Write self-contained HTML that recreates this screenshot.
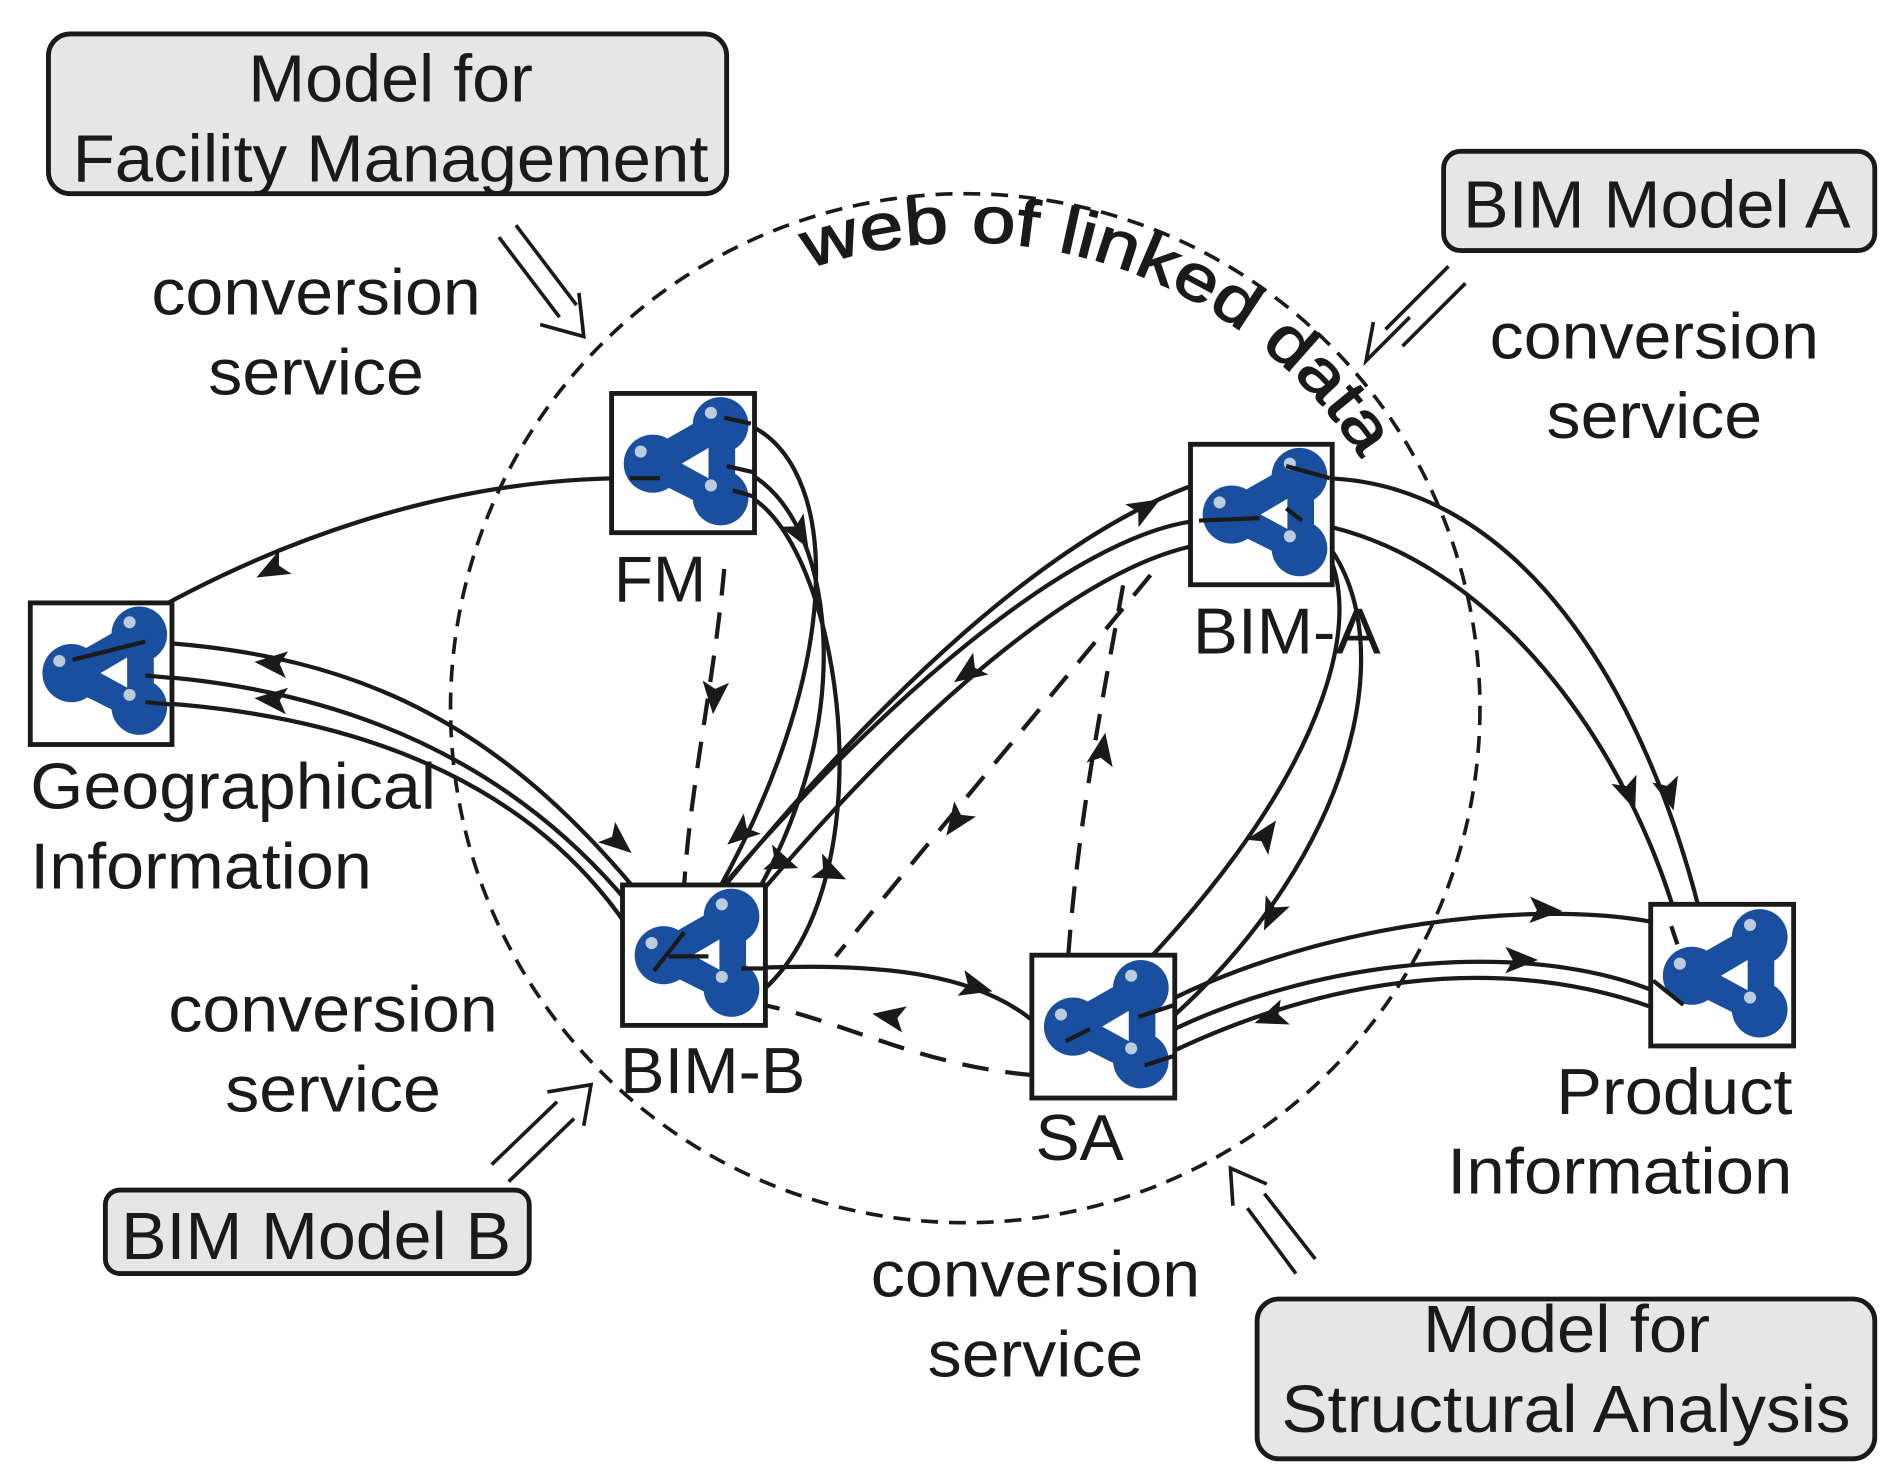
<!DOCTYPE html>
<html><head><meta charset="utf-8"><style>html,body{margin:0;padding:0;background:#fff}svg{display:block}</style></head>
<body>
<svg width="1899" height="1483" viewBox="0 0 1568 1225" preserveAspectRatio="none" xmlns="http://www.w3.org/2000/svg" font-family="Liberation Sans, sans-serif">
<defs>
<path id="ah" d="M15,0 L-12,-11 L-6,0 L-12,11 Z" fill="#1a1a1a"/>
<g id="ic">
<polygon points="32,56 88,24 88,84" fill="none" stroke="#1a4fa0" stroke-width="24" stroke-linejoin="round"/>
<circle cx="32" cy="56" r="24" fill="#1a4fa0"/>
<circle cx="88" cy="24" r="23" fill="#1a4fa0"/>
<circle cx="88" cy="84" r="23" fill="#1a4fa0"/>
<polygon points="56,56 78,43 78,68" fill="#fff"/>
<circle cx="22" cy="46" r="5" fill="#bcd"/>
<circle cx="80" cy="14" r="5" fill="#bcd"/>
<circle cx="80" cy="74" r="5" fill="#bcd"/>
</g>
</defs>
<rect width="1568" height="1225" fill="#fff"/>

<circle cx="797" cy="585" r="425" fill="none" stroke="#1a1a1a" stroke-width="3" stroke-dasharray="14,9"/>
<path id="arc" d="M668,222 A388 388 0 0 1 1185,585" fill="none"/>
<text font-size="54" fill="#1a1a1a" stroke="#1a1a1a" stroke-width="1.2"><textPath href="#arc" textLength="520" lengthAdjust="spacingAndGlyphs">web of linked data</textPath></text>

<g fill="#e6e6e6" stroke="#1a1a1a" stroke-width="4">
<rect x="40" y="28" width="560" height="132" rx="18"/>
<rect x="1192" y="125" width="356" height="82" rx="14"/>
<rect x="87" y="983" width="350" height="69" rx="12"/>
<rect x="1038" y="1073" width="510" height="132" rx="18"/>
</g>
<g font-size="55" fill="#1a1a1a" lengthAdjust="spacingAndGlyphs">
<text x="205" y="84" textLength="235" lengthAdjust="spacingAndGlyphs">Model for</text>
<text x="60" y="150" textLength="525" lengthAdjust="spacingAndGlyphs">Facility Management</text>
<text x="1208" y="188" textLength="320" lengthAdjust="spacingAndGlyphs">BIM Model A</text>
<text x="100" y="1040" textLength="322" lengthAdjust="spacingAndGlyphs">BIM Model B</text>
<text x="1175" y="1117" textLength="237" lengthAdjust="spacingAndGlyphs">Model for</text>
<text x="1058" y="1183" textLength="470" lengthAdjust="spacingAndGlyphs">Structural Analysis</text>
</g>
<g font-size="54" fill="#1a1a1a">
<text x="125" y="260" textLength="272" lengthAdjust="spacingAndGlyphs">conversion</text><text x="172" y="326" textLength="178" lengthAdjust="spacingAndGlyphs">service</text>
<text x="1230" y="296" textLength="272" lengthAdjust="spacingAndGlyphs">conversion</text><text x="1277" y="362" textLength="178" lengthAdjust="spacingAndGlyphs">service</text>
<text x="139" y="852" textLength="272" lengthAdjust="spacingAndGlyphs">conversion</text><text x="186" y="918" textLength="178" lengthAdjust="spacingAndGlyphs">service</text>
<text x="719" y="1071" textLength="272" lengthAdjust="spacingAndGlyphs">conversion</text><text x="766" y="1137" textLength="178" lengthAdjust="spacingAndGlyphs">service</text>
</g>

<g fill="none" stroke="#1a1a1a" stroke-width="3">
<path d="M412,196 L462,262 M426,186 L476,252"/><path d="M446,268 L482,278 L478,242"/>
<path d="M1196,220 L1144,272 M1210,234 L1158,286"/><path d="M1164,262 L1128,298 L1134,266"/>
<path d="M406,962 L460,910 M420,976 L474,924"/><path d="M452,902 L488,896 L482,930"/>
<path d="M1070,1052 L1030,998 M1086,1040 L1044,986"/><path d="M1018,996 L1016,965 L1046,978"/>
</g>

<g fill="none" stroke="#1a1a1a" stroke-width="3.5">
<path d="M520,395 C380,395 220,440 60,545"/>
<path d="M120,530 C300,540 420,600 545,760"/>
<path d="M120,558 C300,570 450,640 552,790"/>
<path d="M120,580 C300,590 460,650 540,802"/>
<path d="M598,345 C700,360 710,560 560,790"/>
<path d="M600,385 C690,400 730,620 580,802"/>
<path d="M605,405 C690,420 740,720 630,818"/>
<path d="M560,780 C700,600 900,390 1062,385"/>
<path d="M565,770 C720,580 890,440 990,430"/>
<path d="M585,790 C720,620 880,470 990,450"/>
<path d="M1072,430 C1140,470 1120,640 880,860"/>
<path d="M1062,420 C1170,480 1140,700 945,860"/>
<path d="M1095,395 C1250,400 1360,560 1410,780"/>
<path d="M1070,430 C1230,450 1350,620 1390,780"/>
<path d="M940,840 C1080,760 1280,740 1380,765"/>
<path d="M950,860 C1080,790 1280,770 1390,830"/>
<path d="M945,880 C1080,810 1240,780 1385,840"/>
<path d="M612,800 C720,795 820,800 870,860"/>
</g>
<g fill="none" stroke="#1a1a1a" stroke-width="3.5" stroke-dasharray="22,14">
<path d="M598,470 C590,560 570,650 565,730"/>
<path d="M950,475 C880,560 780,680 690,790"/>
<path d="M882,790 C890,680 910,580 928,480"/>
<path d="M852,888 C760,880 700,845 630,830"/>
</g>
<g>
<use href="#ah" transform="translate(225,470) rotate(152)"/>
<use href="#ah" transform="translate(225,548) rotate(185)"/>
<use href="#ah" transform="translate(225,578) rotate(185)"/>
<use href="#ah" transform="translate(510,695) rotate(40)"/>
<use href="#ah" transform="translate(660,440) rotate(60)"/>
<use href="#ah" transform="translate(645,712) rotate(20)"/>
<use href="#ah" transform="translate(685,720) rotate(25)"/>
<use href="#ah" transform="translate(590,575) rotate(95)"/>
<use href="#ah" transform="translate(945,420) rotate(-30)"/>
<use href="#ah" transform="translate(800,555) rotate(145)"/>
<use href="#ah" transform="translate(612,688) rotate(140)"/>
<use href="#ah" transform="translate(790,678) rotate(125)"/>
<use href="#ah" transform="translate(910,620) rotate(-80)"/>
<use href="#ah" transform="translate(1045,690) rotate(-55)"/>
<use href="#ah" transform="translate(1050,755) rotate(115)"/>
<use href="#ah" transform="translate(1345,655) rotate(70)"/>
<use href="#ah" transform="translate(1378,655) rotate(75)"/>
<use href="#ah" transform="translate(1275,752) rotate(2)"/>
<use href="#ah" transform="translate(1255,793) rotate(0)"/>
<use href="#ah" transform="translate(1050,840) rotate(160)"/>
<use href="#ah" transform="translate(805,815) rotate(15)"/>
<use href="#ah" transform="translate(735,840) rotate(190)"/>
</g>

<g fill="#fff" stroke="#1a1a1a" stroke-width="4">
<rect x="505" y="325" width="118" height="115"/>
<rect x="25" y="498" width="117" height="117"/>
<rect x="983" y="367" width="117" height="116"/>
<rect x="514" y="731" width="118" height="116"/>
<rect x="852" y="789" width="118" height="118"/>
<rect x="1363" y="747" width="118" height="117"/>
</g>
<use href="#ic" transform="translate(507,327)"/>
<use href="#ic" transform="translate(27,500)"/>
<use href="#ic" transform="translate(985,369)"/>
<use href="#ic" transform="translate(516,733)"/>
<use href="#ic" transform="translate(854,792)"/>
<use href="#ic" transform="translate(1365,750)"/>
<g fill="none" stroke="#1a1a1a" stroke-width="3.5">
<path d="M520,395 L545,395 M598,345 L620,350 M600,385 L622,390 M605,405 L622,410"/>
<path d="M60,545 L120,530 M120,558 L142,560 M120,580 L142,582"/>
<path d="M1062,385 L1098,395 M990,430 L1040,428 M1062,420 L1075,430"/>
<path d="M540,802 L565,770 M552,790 L585,790 M612,800 L632,800"/>
<path d="M880,860 L900,850 M940,840 L970,830 M945,880 L970,872"/>
<path d="M1380,765 L1385,780 M1390,830 L1365,810"/>
</g>

<g font-size="54" fill="#1a1a1a">
<text x="507" y="497" textLength="76" lengthAdjust="spacingAndGlyphs">FM</text>
<text x="25" y="668" textLength="335" lengthAdjust="spacingAndGlyphs">Geographical</text>
<text x="25" y="734" textLength="282" lengthAdjust="spacingAndGlyphs">Information</text>
<text x="985" y="540" textLength="155" lengthAdjust="spacingAndGlyphs">BIM-A</text>
<text x="512" y="903" textLength="153" lengthAdjust="spacingAndGlyphs">BIM-B</text>
<text x="855" y="958" textLength="73" lengthAdjust="spacingAndGlyphs">SA</text>
<text x="1285" y="920" textLength="195" lengthAdjust="spacingAndGlyphs">Product</text>
<text x="1195" y="986" textLength="285" lengthAdjust="spacingAndGlyphs">Information</text>
</g>
</svg>
</body></html>
